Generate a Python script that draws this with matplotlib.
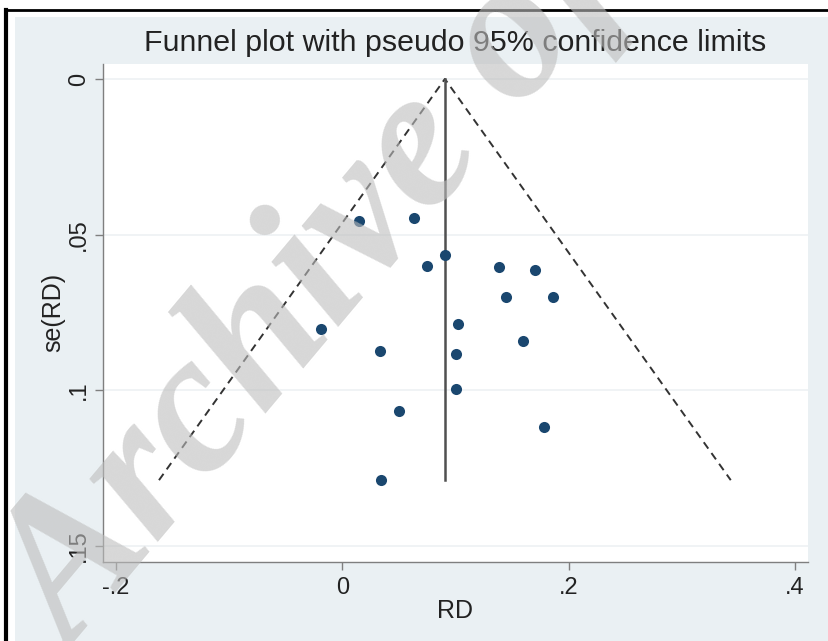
import matplotlib
matplotlib.use('Agg')
import matplotlib.pyplot as plt
from matplotlib.patches import Rectangle
from matplotlib.lines import Line2D

# Data
rd = [0.015, 0.063, 0.091, 0.075, 0.138, 0.170, 0.145, 0.186, -0.019,
      0.102, 0.160, 0.033, 0.100, 0.100, 0.050, 0.178, 0.034]
se = [0.0455, 0.0448, 0.0565, 0.0601, 0.0604, 0.0615, 0.0700, 0.0702, 0.0804,
      0.0788, 0.0842, 0.0873, 0.0885, 0.0996, 0.1068, 0.1118, 0.1289]
pooled = 0.0906
xticks = [-0.2, 0.0, 0.2, 0.4]
xticklabels = ['-.2', '0', '.2', '.4']
yticks = [0.0, 0.05, 0.10, 0.15]
yticklabels = ['0', '.05', '.1', '.15']

W, H = 829, 641
fig = plt.figure(figsize=(W / 100, H / 100), dpi=100)
fig.patch.set_facecolor('white')

# outer graph region (light bluish gray) and black frame lines
fig.patches.append(Rectangle((15 / W, 0), 1 - 15 / W, 1 - 17 / H, transform=fig.transFigure,
                             facecolor='#eaf0f3', edgecolor='none', zorder=-10))
fig.add_artist(Line2D([6 / W, 6 / W], [0, 1 - 10 / H], transform=fig.transFigure,
                      color='black', lw=3, zorder=-5))
fig.add_artist(Line2D([5 / W, 1], [1 - 10 / H, 1 - 10 / H], transform=fig.transFigure,
                      color='black', lw=2, zorder=-5))

left, right, top, bottom = 102.7, 808, 64, 561.7
ax = fig.add_axes([left / W, 1 - bottom / H, (right - left) / W, (bottom - top) / H])
ax.set_zorder(1)
ax.set_facecolor('white')
ax.set_xlim(-0.2118, 0.4115)
ax.set_ylim(0.1551, -0.0048)

for s in ['top', 'right']:
    ax.spines[s].set_visible(False)
for s in ['left', 'bottom']:
    ax.spines[s].set_color('#7f7f7f')
    ax.spines[s].set_linewidth(1.0)

ax.set_xticks(xticks)
ax.set_xticklabels(xticklabels)
ax.set_yticks(yticks)
ax.set_yticklabels(yticklabels, rotation=90, va='center')
ax.tick_params(axis='both', direction='out', length=6, width=1, color='#7f7f7f',
               labelsize=17, labelcolor='#222222')
ax.tick_params(axis='x', pad=5)
ax.tick_params(axis='y', pad=3)
for lab in ax.get_xticklabels() + ax.get_yticklabels():
    lab.set_family('Liberation Sans')

ax.yaxis.grid(True, color='#edf1f3', lw=1.2)
ax.set_axisbelow(True)

# funnel (pseudo 95% limits) and pooled estimate line
semax = max(se)
ax.plot([pooled - 1.96 * semax, pooled, pooled + 1.96 * semax], [semax, 0, semax],
        color='#333333', lw=1.4, dashes=(4.0, 2.8), zorder=2)
ax.plot([pooled, pooled], [0, semax], color='#505050', lw=1.8, zorder=2)

ax.plot(rd, se, 'o', color='#1a476f', ms=8, mec='none', zorder=3)

ax.set_xlabel('RD', fontsize=18, family='Liberation Sans', color='#222222')
ax.set_ylabel('se(RD)', fontsize=18, family='Liberation Sans', color='#222222')
ax.xaxis.set_label_coords(0.5, -(611 - bottom) / (bottom - top), transform=ax.transAxes)
ax.xaxis.label.set_va('center')
ax.yaxis.set_label_coords((53 - left) / (right - left), 0.5, transform=ax.transAxes)
ax.yaxis.label.set_va('center')

fig.text((left + right) / 2 / W, 1 - 43 / H, 'Funnel plot with pseudo 95% confidence limits',
         fontsize=21.9, family='Liberation Sans', color='#222222', ha='center', va='center')

# watermark
fig.text(73 / W, 1 - 655 / H, 'Archive of SID', rotation=50, rotation_mode='anchor',
         fontsize=145, family='Liberation Serif', weight='bold', style='italic',
         color='#bdbdbd', alpha=0.6, ha='left', va='baseline', zorder=10)

fig.savefig('out.png', dpi=100, facecolor=fig.get_facecolor())
